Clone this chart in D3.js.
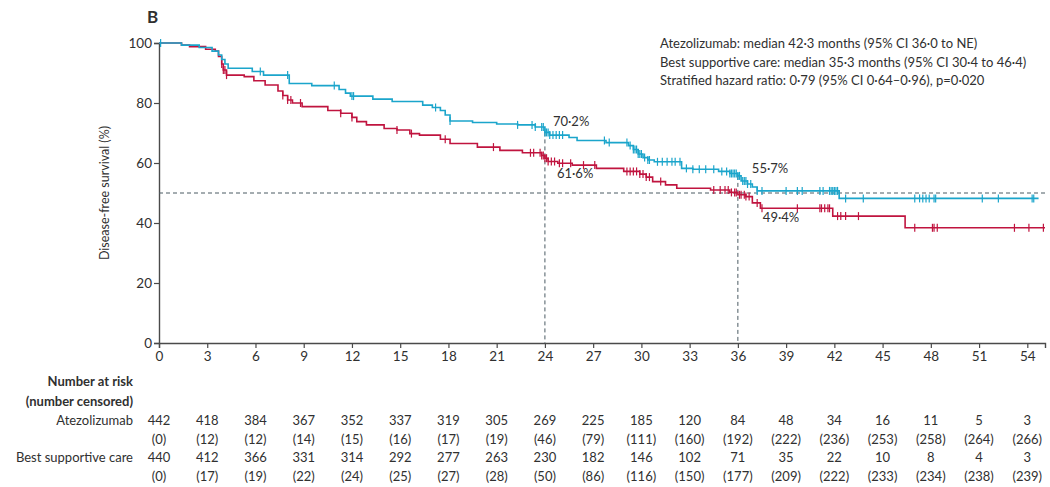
<!DOCTYPE html>
<html>
<head>
<meta charset="utf-8">
<script src="https://d3js.org/d3.v7.min.js"></script>
<style>
  body { margin: 0; background: #fff; }
  text { font-family: Lato, "Open Sans", sans-serif; fill: #303030; }
</style>
</head>
<body>
<div id="chart"></div>
<script>
// Kaplan-Meier steps (months, % disease-free)
const atezoTimes = [0, 1.4, 2.5, 3.3, 3.7, 3.9, 4.1, 4.3, 5.8, 6.5, 8.1, 9.5, 11.2, 11.6, 11.9, 13.3, 14.5, 16.4, 17.0, 17.5, 17.8, 18.1, 19.5, 21.0, 22.3, 23.4, 24.0, 24.3, 25.5, 26.0, 27.8, 29.2, 29.5, 29.8, 30.1, 30.4, 30.8, 32.5, 33.2, 34.8, 35.5, 36.0, 36.2, 36.6, 36.9, 37.2, 42.3, 54.7];
const atezoSurv  = [100, 99.3, 98.5, 97.3, 96, 94.5, 93, 91.6, 90.5, 89.3, 86.5, 85.8, 84.5, 83.3, 82.3, 81.3, 80.5, 79.3, 78.5, 77.5, 76, 74, 73.5, 73, 72.7, 72, 70.2, 69.3, 68.5, 67.5, 66.8, 65.8, 64.5, 63, 61.8, 61, 60.4, 58.2, 57.9, 57.2, 56.5, 55.7, 54, 53, 52, 50.7, 48.2, 48.2];
const bscTimes = [0, 1.4, 1.9, 2.9, 3.5, 3.7, 3.9, 4.0, 4.2, 5.3, 5.9, 6.6, 7.4, 7.7, 8.0, 8.3, 8.9, 10.5, 11.3, 12.0, 12.3, 12.9, 14.0, 14.8, 15.6, 16.2, 17.5, 18.1, 19.8, 21.2, 22.6, 23.8, 24.0, 24.2, 24.8, 25.7, 27.2, 28.9, 29.9, 30.3, 30.7, 31.5, 32.2, 34.3, 35.5, 36.0, 36.5, 36.9, 37.4, 41.9, 46.4, 55.1];
const bscSurv  = [100, 99.3, 98.8, 97.9, 97.3, 95.5, 93, 91, 89.3, 88.8, 87.4, 86, 84, 82.5, 81, 80, 78.8, 77.5, 76.6, 75.2, 73.8, 72.7, 71.5, 71, 69.8, 69.3, 67.9, 66.5, 65.3, 64.2, 63.4, 62.5, 61.6, 60.5, 59.9, 59.3, 58.2, 57.2, 56.3, 55.3, 53.8, 52.7, 51.6, 51, 50.2, 49.4, 48.8, 46.7, 44.9, 42.3, 38.4, 38.4];

// censoring times (months)
const atezoCensor = [0.1, 6.3, 8.0, 10.9, 12.0, 12.1, 17.2, 18.1, 22.3, 23.2, 23.4, 23.8, 23.9, 24.0, 24.1, 24.2, 24.3, 24.5, 24.7, 24.9, 25.1, 27.7, 28.0, 29.1, 29.3, 29.5, 29.6, 29.7, 29.8, 29.9, 30.0, 30.2, 30.4, 30.5, 31.0, 31.3, 31.6, 31.9, 32.1, 32.4, 32.8, 33.2, 33.6, 34.0, 34.5, 35.0, 35.3, 35.5, 35.6, 35.7, 35.8, 35.9, 36.0, 36.1, 36.3, 36.4, 36.5, 36.6, 36.8, 37.2, 37.5, 39.0, 39.7, 40.0, 41.1, 41.3, 41.7, 41.8, 41.9, 42.0, 42.1, 42.2, 42.7, 43.8, 47.0, 47.3, 47.5, 47.7, 47.9, 48.2, 48.3, 51.2, 52.2, 54.3, 54.4];
const bscCensor = [3.9, 4.0, 4.1, 4.2, 7.7, 8.0, 8.2, 8.8, 11.3, 12.0, 14.8, 15.7, 17.8, 20.8, 23.1, 23.3, 23.7, 23.8, 23.9, 24.0, 24.1, 24.2, 24.4, 24.6, 24.9, 25.1, 25.6, 26.4, 27.1, 29.1, 29.3, 29.5, 29.7, 29.9, 30.1, 30.3, 30.5, 31.2, 34.5, 34.9, 35.2, 35.4, 35.6, 35.8, 35.9, 36.1, 36.2, 36.4, 36.5, 36.7, 37.2, 37.5, 39.7, 41.1, 41.2, 41.4, 41.6, 41.7, 42.2, 42.4, 42.7, 43.5, 47.0, 48.1, 48.2, 48.4, 53.2, 54.1, 55.0];

const xTicks = d3.range(0, 55, 3);
const yTicks = [0, 20, 40, 60, 80, 100];
const atezoAtRisk = [442, 418, 384, 367, 352, 337, 319, 305, 269, 225, 185, 120, 84, 48, 34, 16, 11, 5, 3];
const atezoCensored = [0, 12, 12, 14, 15, 16, 17, 19, 46, 79, 111, 160, 192, 222, 236, 253, 258, 264, 266];
const bscAtRisk = [440, 412, 366, 331, 314, 292, 277, 263, 230, 182, 146, 102, 71, 35, 22, 10, 8, 4, 3];
const bscCensored = [0, 17, 19, 22, 24, 25, 27, 28, 50, 86, 116, 150, 177, 209, 222, 233, 234, 238, 239];

const landmarks = [
  { t: 24, v: 70.2, label: "70·2%", dx: 8, dy: -6 },
  { t: 24, v: 61.6, label: "61·6%", dx: 12, dy: 20 },
  { t: 36, v: 55.7, label: "55·7%", dx: 14, dy: -3 },
  { t: 36, v: 49.4, label: "49·4%", dx: 25, dy: 27 }
];
const notes = [
  "Atezolizumab: median 42·3 months (95% CI 36·0 to NE)",
  "Best supportive care: median 35·3 months (95% CI 30·4 to 46·4)",
  "Stratified hazard ratio: 0·79 (95% CI 0·64–0·96), p=0·020"
];

const cyan = "#1ba5cb";
const red = "#c0143f";
const axisGrey = "#4a4a4a";

const width = 1050, height = 487;
const svg = d3.select("#chart").append("svg")
  .attr("width", width).attr("height", height);

const x = d3.scaleLinear().domain([0, 55.1]).range([159, 1045]);
const y = d3.scaleLinear().domain([0, 100]).range([343, 43]);

// panel letter
svg.append("text").attr("x", 147).attr("y", 23)
  .style("font-weight", "bold").style("font-size", "17px").text("B");

// axes
const xAxis = svg.append("g").attr("transform", "translate(0,343)")
  .call(d3.axisBottom(x).tickValues(xTicks).tickSize(5).tickPadding(3).tickFormat(d3.format("d")));
const yAxis = svg.append("g").attr("transform", "translate(159,0)")
  .call(d3.axisLeft(y).tickValues(yTicks).tickSize(5).tickPadding(2));
[xAxis, yAxis].forEach(g => {
  g.select(".domain").attr("stroke", axisGrey).attr("stroke-width", 1.4);
  g.selectAll(".tick line").attr("stroke", axisGrey).attr("stroke-width", 1.2);
  g.selectAll(".tick text").style("font-size", "13.5px")
    .style("font-family", "Lato, 'Open Sans', sans-serif").attr("fill", "#303030");
});

svg.append("text")
  .attr("transform", "translate(109,193) rotate(-90)")
  .attr("text-anchor", "middle").style("font-size", "12.5px")
  .text("Disease-free survival (%)");

// reference dashes
const dash = "4,3";
svg.append("line").attr("x1", x(0)).attr("x2", x(55.1)).attr("y1", y(50)).attr("y2", y(50))
  .attr("stroke", "#4a5a62").attr("stroke-dasharray", dash);
[[24, 70.2], [36, 55.7]].forEach(([t, v]) => {
  svg.append("line").attr("x1", x(t)).attr("x2", x(t)).attr("y1", y(v)).attr("y2", y(0))
    .attr("stroke", "#4a5a62").attr("stroke-dasharray", dash);
});

// survival curves
const stepLine = d3.line().x(d => x(d[0])).y(d => y(d[1])).curve(d3.curveStepAfter);
function drawCurve(times, surv, censor, color) {
  const pts = times.map((t, i) => [t, surv[i]]);
  svg.append("path").datum(pts).attr("d", stepLine)
    .attr("fill", "none").attr("stroke", color).attr("stroke-width", 1.6);
  const at = t => surv[d3.bisectRight(times, t) - 1];
  svg.append("g").selectAll("line").data(censor).join("line")
    .attr("x1", d => x(d)).attr("x2", d => x(d))
    .attr("y1", d => y(at(d)) - 4).attr("y2", d => y(at(d)) + 4)
    .attr("stroke", color).attr("stroke-width", 1.2);
}
drawCurve(bscTimes, bscSurv, bscCensor, red);
drawCurve(atezoTimes, atezoSurv, atezoCensor, cyan);

svg.append("g").selectAll("text").data(landmarks).join("text")
  .attr("x", d => x(d.t) + d.dx).attr("y", d => y(d.v) + d.dy)
  .style("font-size", "13px").attr("fill", "#444").text(d => d.label);

svg.append("g").selectAll("text").data(notes).join("text")
  .attr("x", 660).attr("y", (d, i) => 48 + i * 18.5)
  .style("font-size", "13px").text(d => d);

// number at risk table
svg.append("text").attr("x", 133).attr("y", 386).attr("text-anchor", "end")
  .style("font-weight", "bold").style("font-size", "13px").text("Number at risk");
svg.append("text").attr("x", 133).attr("y", 406).attr("text-anchor", "end")
  .style("font-weight", "bold").style("font-size", "13px").text("(number censored)");

const rows = [
  { name: "Atezolizumab", risk: atezoAtRisk, cens: atezoCensored, yy: 425 },
  { name: "Best supportive care", risk: bscAtRisk, cens: bscCensored, yy: 462 }
];
rows.forEach(r => {
  svg.append("text").attr("x", 133).attr("y", r.yy).attr("text-anchor", "end")
    .style("font-size", "13px").text(r.name);
  const g = svg.append("g");
  g.selectAll("text.n").data(r.risk).join("text").attr("class", "n")
    .attr("x", (d, i) => x(xTicks[i])).attr("y", r.yy).attr("text-anchor", "middle")
    .style("font-size", "13px").text(d => d);
  g.selectAll("text.c").data(r.cens).join("text").attr("class", "c")
    .attr("x", (d, i) => x(xTicks[i])).attr("y", r.yy + 19).attr("text-anchor", "middle")
    .style("font-size", "13px").text(d => "(" + d + ")");
});
</script>
</body>
</html>
